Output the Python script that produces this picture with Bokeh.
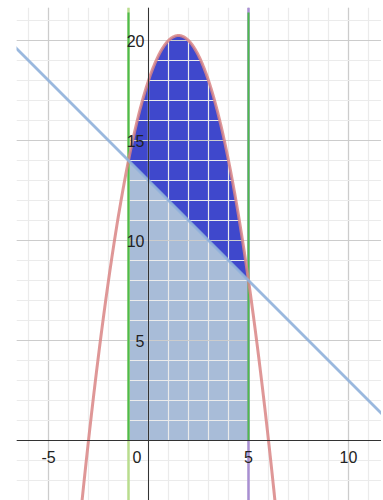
import numpy as np
from bokeh.plotting import figure
from bokeh.models import Grid, SingleIntervalTicker, Span
from bokeh.core.properties import value
from bokeh.embed import file_html
from bokeh.resources import INLINE

# --- data ---
parabola_coeffs = [-1.0, 3.0, 18.0]     # y = a x^2 + b x + c
line_coeffs = [-1.0, 13.0]              # y = m x + q
bounds = [-1.0, 5.0]                    # vertical lines / integration limits
x_tick_values = [-5, 5, 10]
x_tick_labels = ["-5", "5", "10"]
y_tick_values = [5, 10, 15, 20]
y_tick_labels = ["5", "10", "15", "20"]
origin_label = ["0"]
green_top = 21.4

def parab(x):
    a, b, c = parabola_coeffs
    return a * x**2 + b * x + c

def line(x):
    m, q = line_coeffs
    return m * x + q

W, H = 381, 500
BL, BT = 16, 7
x_start = -6.6
x_end = x_start + (W - BL) / 20.0
y_end = 21.65
y_start = y_end - (H - BT) / 20.0

p = figure(width=W, height=H, x_range=(x_start, x_end), y_range=(y_start, y_end),
           x_axis_location=None, y_axis_location=None, output_backend="svg",
           toolbar_location=None, min_border_left=BL, min_border_right=0,
           min_border_top=BT, min_border_bottom=0, outline_line_color=None)
p.center = []
for dim in (0, 1):
    g = Grid(dimension=dim, ticker=SingleIntervalTicker(interval=5, num_minor_ticks=5),
             grid_line_color="#cccccc", grid_line_width=1.2,
             minor_grid_line_color="#ebebeb", minor_grid_line_width=1.2, level="underlay")
    p.add_layout(g)

# fills
xf = np.linspace(bounds[0], bounds[1], 200)
p.varea(x=xf, y1=np.zeros_like(xf), y2=line(xf), fill_color="#a8bcd8", level="image")
p.varea(x=xf, y1=line(xf), y2=parab(xf), fill_color="#3f48cc", level="image")

# vertical lines
p.segment(x0=[bounds[0]], y0=[y_start], x1=[bounds[0]], y1=[y_end], line_color="#b9dd8e", line_width=2.5)
p.segment(x0=[bounds[1]], y0=[y_start], x1=[bounds[1]], y1=[y_end], line_color="#a98fd2", line_width=2.5)
p.segment(x0=bounds, y0=[0, 0], x1=bounds, y1=[green_top, green_top], line_color="#4dbb4d", line_width=2)

# curves
xp = np.linspace(-4, 7.5, 400)
p.line(xp, parab(xp), line_color="#d98585", line_width=3, line_alpha=0.85)
xl = np.array([x_start - 1, x_end + 1])
p.line(xl, line(xl), line_color="#8fb0da", line_width=3, line_alpha=0.9)

# axes
p.add_layout(Span(location=0, dimension="height", line_color="#333333", line_width=1))
p.add_layout(Span(location=0, dimension="width", line_color="#333333", line_width=1))

# tick labels
font = value("Liberation Sans")
p.text(x=x_tick_values, y=[0] * len(x_tick_values), text=x_tick_labels, text_font=font,
       text_font_size="16px", text_color="#222222", text_align="center",
       text_baseline="middle", y_offset=16)
p.text(x=[0], y=[0], text=origin_label, text_font=font, text_font_size="16px",
       text_color="#222222", text_align="right", text_baseline="middle",
       x_offset=-7, y_offset=16)
p.text(x=[0] * len(y_tick_values), y=y_tick_values, text=y_tick_labels, text_font=font,
       text_font_size="16px", text_color="#222222", text_align="right",
       text_baseline="middle", x_offset=-4)

open("out.html", "w").write(file_html(p, INLINE))
